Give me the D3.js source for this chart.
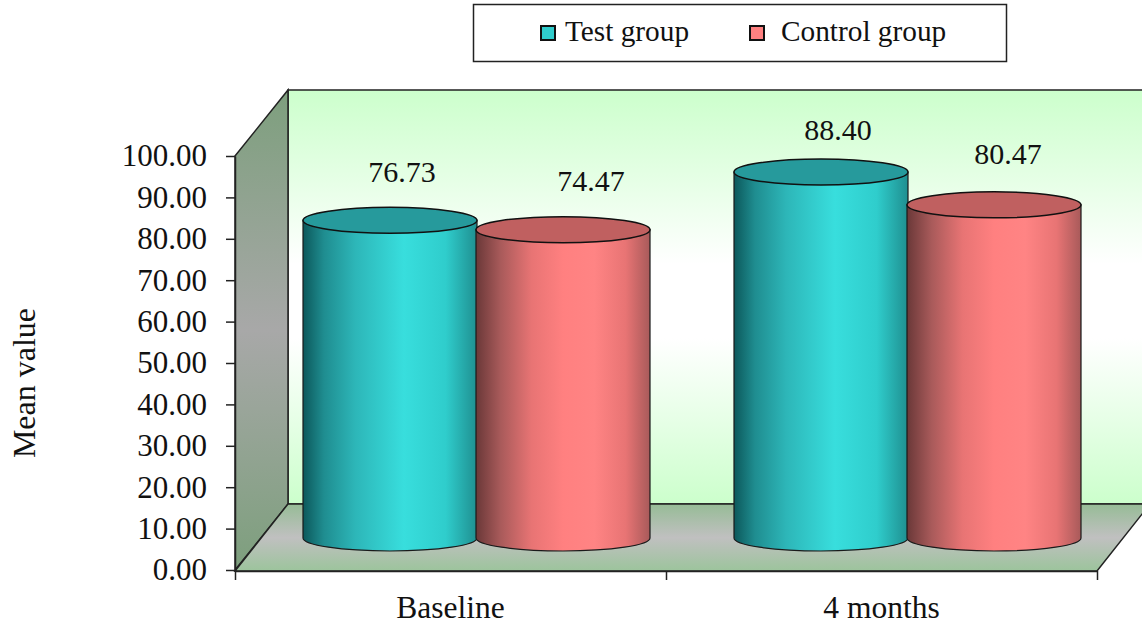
<!DOCTYPE html>
<html>
<head>
<meta charset="utf-8">
<script src="https://cdn.jsdelivr.net/npm/d3@7"></script>
<style>
  html, body { margin: 0; padding: 0; background: #fff; overflow: hidden; }
  text { font-family: "Liberation Serif", serif; fill: #111; }
</style>
</head>
<body>
<div id="chart"></div>
<script>
const categories = ["Baseline", "4 months"]
const seriesNames = ["Test group", "Control group"]
const testValues = [76.73, 88.40]
const controlValues = [74.47, 80.47]
const yTicks = [0, 10, 20, 30, 40, 50, 60, 70, 80, 90, 100]

const width = 1142
const height = 627

// front plane of the 3d box, the back wall sits at depth
const front = { left: 235, right: 1097, top: 156, bottom: 570 }
const depth = { x: 53, y: -66 }
const rx = 87
const ry = 13

// the value labels were nudged by hand in the original
const labelNudge = [[[12, -48], [17, -42]], [[28, -49], [14, -51]]]

const series = [
  { name: seriesNames[0], values: testValues, top: "#269a9c", swatch: "#2fcccc",
    stops: [[0, "#0c585b"], [0.12, "#1f8d90"], [0.3, "#2db6b8"], [0.58, "#38dedd"], [0.82, "#2fcdcc"], [1, "#1f8f90"]] },
  { name: seriesNames[1], values: controlValues, top: "#c06060", swatch: "#ff8080",
    stops: [[0, "#6a3838"], [0.14, "#a85a5a"], [0.32, "#e87474"], [0.5, "#ff8080"], [0.68, "#ff8484"], [0.86, "#e87474"], [1, "#a85a5a"]] }
]

const svg = d3.select("#chart").append("svg")
  .attr("width", width)
  .attr("height", height)
  .style("display", "block")

const defs = svg.append("defs")

function addGradient(id, stops, horizontal) {
  const g = defs.append("linearGradient")
    .attr("id", id)
    .attr("x1", 0).attr("y1", 0)
    .attr("x2", horizontal ? 1 : 0).attr("y2", horizontal ? 0 : 1)
  stops.forEach(s => g.append("stop").attr("offset", s[0]).attr("stop-color", s[1]))
}

addGradient("wallFill", [[0, "#ccffcc"], [0.22, "#e6ffe6"], [0.42, "#ffffff"], [0.6, "#ffffff"], [0.8, "#e6ffe6"], [1, "#ccffcc"]], false)
addGradient("sideFill", [[0, "#7d9f7d"], [0.5, "#a8a8a8"], [1, "#7d9f7d"]], false)
addGradient("floorFill", [[0, "#96bc96"], [0.5, "#c0c0c0"], [1, "#9cc49c"]], false)
series.forEach((s, i) => addGradient("bar" + i, s.stops, true))

const y = d3.scaleLinear().domain([0, 100]).range([front.bottom, front.top])
const x0 = d3.scaleBand().domain(categories).range([front.left, front.right])
const x1 = d3.scaleBand().domain(seriesNames).range([0, 346])
const inset = (x0.bandwidth() - 347) / 2
const xEdge = d3.scaleLinear().domain([0, categories.length]).range([front.left, front.right])

// walls and floor
const poly = pts => "M" + pts.map(p => p.join(",")).join("L") + "Z"
const back = { left: front.left + depth.x, right: front.right + depth.x, top: front.top + depth.y, bottom: front.bottom + depth.y }

svg.append("path")
  .attr("d", poly([[back.left, back.top], [back.right, back.top], [back.right, back.bottom], [back.left, back.bottom]]))
  .attr("fill", "url(#wallFill)")
  .attr("stroke", "#222")
  .attr("stroke-width", 1.5)

svg.append("path")
  .attr("d", poly([[front.left, front.top], [back.left, back.top], [back.left, back.bottom], [front.left, front.bottom]]))
  .attr("fill", "url(#sideFill)")
  .attr("stroke", "#222")
  .attr("stroke-width", 1.5)

svg.append("path")
  .attr("d", poly([[back.left, back.bottom], [back.right, back.bottom], [front.right, front.bottom + 1], [front.left, front.bottom + 1]]))
  .attr("fill", "url(#floorFill)")
  .attr("stroke", "#222")
  .attr("stroke-width", 1.5)

// cylinders
series.forEach((s, si) => {
  s.values.forEach((v, ci) => {
    const left = x0(categories[ci]) + inset + depth.x / 2 + x1(s.name)
    const w = x1.bandwidth()
    const cx = left + w / 2
    const base = y(0) + depth.y / 2 + 1
    const top = y(v) + depth.y / 2 + 1
    const g = svg.append("g")

    g.append("path")
      .attr("d", `M${cx - rx},${top}L${cx - rx},${base}A${rx},${ry} 0 0 0 ${cx + rx},${base}L${cx + rx},${top}Z`)
      .attr("fill", `url(#bar${si})`)
      .attr("stroke", "#1a1a1a")
      .attr("stroke-width", 1.2)

    g.append("ellipse")
      .attr("cx", cx)
      .attr("cy", top)
      .attr("rx", rx)
      .attr("ry", ry)
      .attr("fill", s.top)
      .attr("stroke", "#111")
      .attr("stroke-width", 1.5)

    const nudge = labelNudge[si][ci]
    svg.append("text")
      .attr("class", "value-label")
      .attr("x", cx + nudge[0])
      .attr("y", top + nudge[1])
      .attr("dy", "0.33em")
      .attr("text-anchor", "middle")
      .style("font-size", "30px")
      .text(v.toFixed(2))
  })
})
svg.selectAll(".value-label").raise()

// axes
const yAxis = svg.append("g")
  .attr("transform", `translate(${front.left},0)`)
  .call(d3.axisLeft(y).tickValues(yTicks).tickFormat(d => d.toFixed(2)).tickSize(9).tickPadding(19).tickSizeOuter(0))
yAxis.selectAll("text").style("font-size", "31px")

svg.append("g")
  .attr("transform", `translate(0,${front.bottom + 1})`)
  .call(d3.axisBottom(xEdge).ticks(categories.length).tickFormat("").tickSize(9).tickSizeOuter(0))
svg.selectAll(".domain, .tick line").attr("stroke", "#222").attr("stroke-width", 1.5)

svg.selectAll(".category")
  .data(categories)
  .enter()
  .append("text")
  .attr("class", "category")
  .attr("x", d => x0(d) + x0.bandwidth() / 2)
  .attr("y", 618)
  .attr("text-anchor", "middle")
  .style("font-size", "31.5px")
  .text(d => d)

svg.append("text")
  .attr("transform", "translate(35,383) rotate(-90)")
  .attr("text-anchor", "middle")
  .style("font-size", "32px")
  .text("Mean value")

// legend
svg.append("rect")
  .attr("x", 473.5)
  .attr("y", 4.5)
  .attr("width", 533)
  .attr("height", 57)
  .attr("fill", "#fff")
  .attr("stroke", "#222")
  .attr("stroke-width", 1.5)

const legendX = [541, 750]
const legendTextX = [565, 781]
series.forEach((s, i) => {
  svg.append("rect")
    .attr("x", legendX[i])
    .attr("y", 26)
    .attr("width", 14)
    .attr("height", 14)
    .attr("fill", s.swatch)
    .attr("stroke", "#111")
    .attr("stroke-width", 2)
  svg.append("text")
    .attr("x", legendTextX[i])
    .attr("y", 41)
    .style("font-size", "29.3px")
    .text(s.name)
})
</script>
</body>
</html>
